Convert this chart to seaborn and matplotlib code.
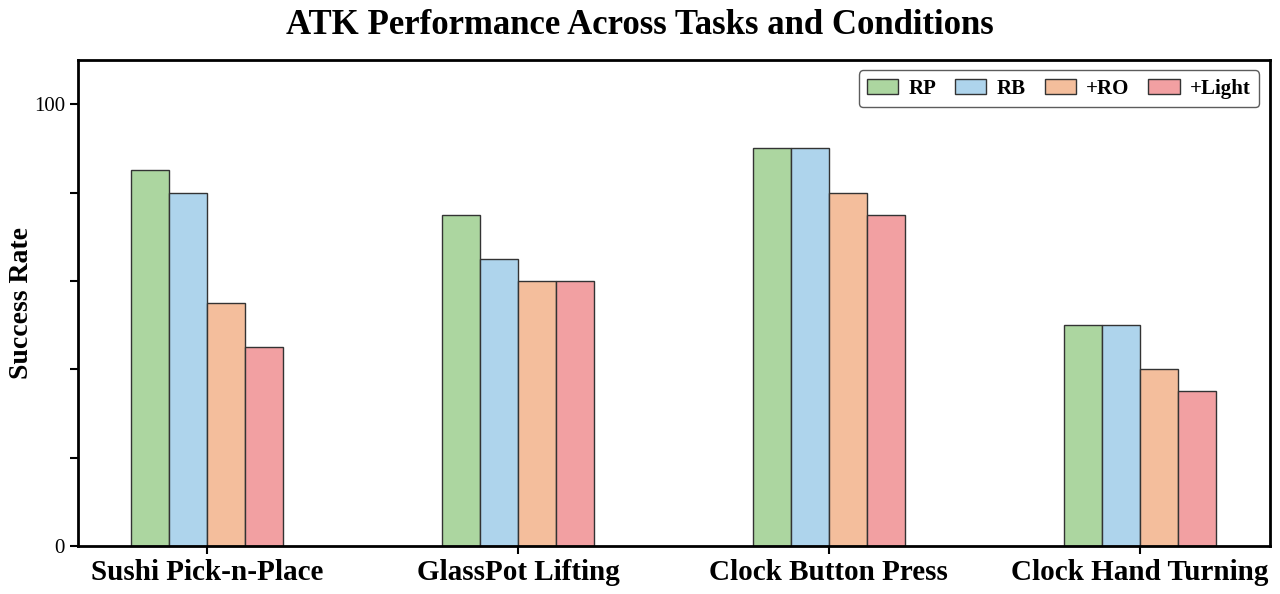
import numpy as np
import pandas as pd
import matplotlib.pyplot as plt
import seaborn as sns

# data
tasks = ["Sushi Pick-n-Place", "GlassPot Lifting", "Clock Button Press", "Clock Hand Turning"]
conditions = ["RP", "RB", "+RO", "+Light"]
rp = [85, 75, 90, 50]
rb = [80, 65, 90, 50]
ro = [55, 60, 80, 40]
light = [45, 60, 75, 35]

colors = ["#acd6a0", "#aed4ec", "#f4be9c", "#f2a0a2"]

df = pd.DataFrame({"RP": rp, "RB": rb, "+RO": ro, "+Light": light}, index=tasks)
df = df.reset_index().rename(columns={"index": "Task"})
long = df.melt(id_vars="Task", var_name="Condition", value_name="Success Rate")

sns.set_style("white")
plt.rcParams["font.family"] = ["Liberation Serif", "DejaVu Serif"]
plt.rcParams["text.color"] = "black"
plt.rcParams["axes.labelcolor"] = "black"
plt.rcParams["xtick.color"] = "black"
plt.rcParams["ytick.color"] = "black"

fig = plt.figure(figsize=(12.8, 5.94), dpi=100)
ax = fig.add_axes([0.061, 0.081, 0.931, 0.818])

sns.barplot(data=long, x="Task", y="Success Rate", hue="Condition",
            hue_order=conditions, palette=colors, width=0.49,
            edgecolor="#333333", linewidth=1.0, saturation=1, ax=ax)

ax.set_xlim(-0.415, 3.418)
ax.set_ylim(0, 110)
ax.set_yticks([0, 20, 40, 60, 80, 100])
ax.set_yticklabels(["0", "", "", "", "", "100"], fontsize=15)
ax.tick_params(axis="both", direction="out", length=6, width=1.5, color="black",
               left=True, bottom=True)
for lab in ax.get_xticklabels():
    lab.set_fontsize(21)
    lab.set_fontweight("bold")
ax.set_xlabel("")
ax.set_ylabel("Success Rate", fontsize=20, fontweight="bold", labelpad=0)
for sp in ax.spines.values():
    sp.set_linewidth(2)
    sp.set_color("black")

fig.suptitle("ATK Performance Across Tasks and Conditions", fontsize=25,
             fontweight="bold", y=0.985)

leg = ax.legend(loc="upper right", ncol=4, frameon=True,
                prop={"weight": "bold", "size": 15}, handlelength=1.5,
                handletextpad=0.5, borderaxespad=0.5, columnspacing=0.9,
                borderpad=0.4)
leg.get_frame().set_edgecolor("#333333")
leg.get_frame().set_linewidth(1.0)

fig.savefig("out.png", dpi=100)
